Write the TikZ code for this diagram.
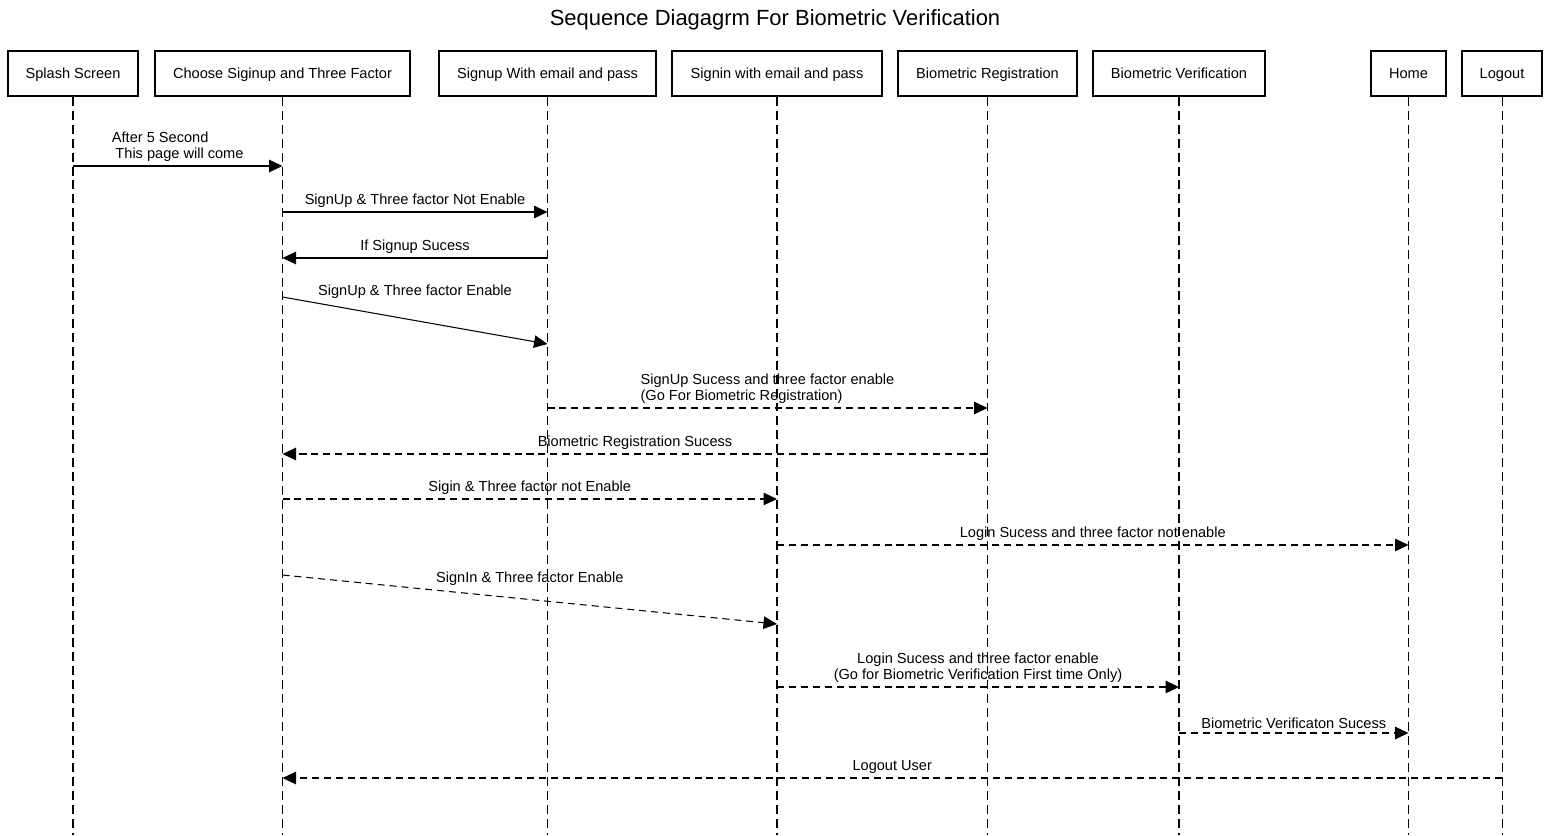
\documentclass[tikz,border=0pt]{standalone}
\usepackage{fontspec}
\setmainfont{Liberation Sans}
\usetikzlibrary{arrows.meta,calc}

\begin{document}
\begin{tikzpicture}[x=0.02cm, y=-0.02cm,
	every node/.style={font=\fontsize{8.3}{9.1}\selectfont, text=black},
	actor/.style={draw=black, line width=1.3pt, minimum height=0.9cm, inner sep=0pt, text depth=0pt},
	life/.style={draw=black, line width=0.6pt, dash pattern=on 5.1pt off 2.8pt},
	msg/.style={draw=black, line width=0.6pt, -{Triangle[length=0.27cm, width=0.25cm]}},
	reply/.style={msg, dash pattern=on 4pt off 2.8pt},
	lbl/.style={above, inner sep=2pt, midway}]
			\useasboundingbox (0,0) rectangle (1550,835);
			\node[font=\fontsize{12.5}{14}\selectfont] (title) at (775,19.5) {Sequence Diagagrm For Biometric Verification};
			
			\node[actor, minimum width=2.6cm] (splash) at (73,73.5) {Splash Screen};
			\node[actor, minimum width=5.1cm] (choose) at (282.5,73.5) {Choose Siginup and Three Factor};
			\node[actor, minimum width=4.34cm] (signup) at (547.5,73.5) {Signup With email and pass};
			\node[actor, minimum width=4.2cm] (signin) at (777,73.5) {Signin with email and pass};
			\node[actor, minimum width=3.58cm] (breg) at (987.5,73.5) {Biometric Registration};
			\node[actor, minimum width=3.44cm] (bver) at (1179,73.5) {Biometric Verification};
			\node[actor, minimum width=1.5cm] (home) at (1408.5,73.5) {Home};
			\node[actor, minimum width=1.6cm] (logout) at (1502,73.5) {Logout};
			
			\coordinate (bottom) at (0,835);
			\foreach \n in {splash,choose,signup,signin,breg,bver,home,logout}
				\draw[life] (\n.south) -- (\n |- bottom);
			
			\coordinate (r1) at (0,166);
			\coordinate (r2) at (0,212);
			\coordinate (r3) at (0,258);
			\coordinate (r4a) at (0,297);
			\coordinate (r4b) at (0,344);
			\coordinate (l4) at (0,292);
			\coordinate (r5) at (0,408);
			\coordinate (r6) at (0,454);
			\coordinate (r7) at (0,499);
			\coordinate (r8) at (0,545);
			\coordinate (r9a) at (0,575);
			\coordinate (r9b) at (0,624);
			\coordinate (l9) at (0,579);
			\coordinate (r10) at (0,687);
			\coordinate (r11) at (0,733);
			\coordinate (r12) at (0,778);
			
			\draw[msg] (splash |- r1) -- node[lbl, align=left]{After 5 Second\\\hspace*{2pt}This page will come} (choose |- r1);
			\draw[msg] (choose |- r2) -- node[lbl]{SignUp \& Three factor Not Enable} (signup |- r2);
			\draw[msg] (signup |- r3) -- node[lbl]{If Signup Sucess} (choose |- r3);
			\path (choose |- l4) -- node[midway]{SignUp \& Three factor Enable} (signup |- l4);
			\draw[msg] (choose |- r4a) -- (signup |- r4b);
			\draw[reply] (signup |- r5) -- node[lbl, align=left]{SignUp Sucess and three factor enable\\(Go For Biometric Registration)} (breg |- r5);
			\draw[reply] (breg |- r6) -- node[lbl]{Biometric Registration Sucess} (choose |- r6);
			\draw[reply] (choose |- r7) -- node[lbl]{Sigin \& Three factor not Enable} (signin |- r7);
			\draw[reply] (signin |- r8) -- node[lbl]{Login Sucess and three factor not enable} (home |- r8);
			\path (choose |- l9) -- node[midway]{SignIn \& Three factor Enable} (signin |- l9);
			\draw[reply] (choose |- r9a) -- (signin |- r9b);
			\draw[reply] (signin |- r10) -- node[lbl, align=center]{Login Sucess and three factor enable\\(Go for Biometric Verification First time Only)} (bver |- r10);
			\draw[reply] (bver |- r11) -- node[lbl]{Biometric Verificaton Sucess} (home |- r11);
			\draw[reply] (logout |- r12) -- node[lbl]{Logout User} (choose |- r12);
			\end{tikzpicture}
\end{document}
